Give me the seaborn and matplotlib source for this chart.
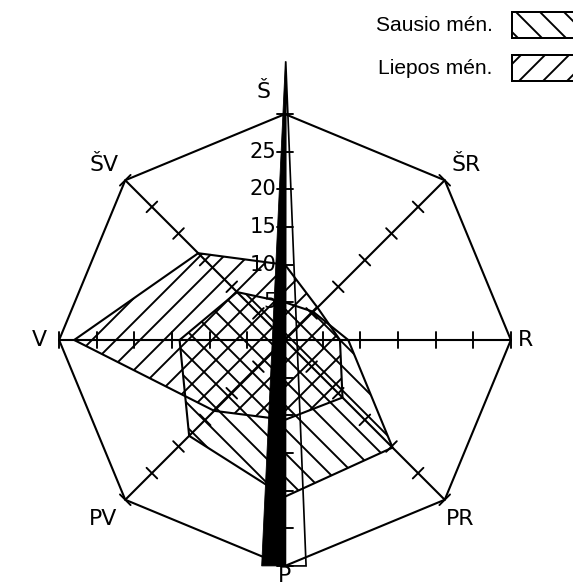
import numpy as np
import pandas as pd
import matplotlib
matplotlib.use("Agg")
import matplotlib.pyplot as plt
import seaborn as sns
from matplotlib.patches import Polygon, Rectangle

# ---------------- data ----------------
directions = ["Š", "ŠR", "R", "PR", "P", "PV", "V", "ŠV"]
angles_deg = [90, 45, 0, -45, -90, -135, 180, 135]
sausio = [5.0, 5.3, 8.4, 20.2, 20.8, 18.0, 14.0, 9.0]     # January
liepos = [10.0, 6.1, 7.3, 10.8, 10.6, 13.3, 28.0, 16.3]   # July
series_names = ["Sausio mén.", "Liepos mén."]
radial_ticks = [5, 10, 15, 20, 25, 30]
radial_tick_labels = ["5", "10", "15", "20", "25"]
frame_radius = 30
needle_top = 37.0
needle_bottom = 30.0
needle_left_width = 3.1
needle_right_width = 2.8

# ---------------- style ----------------
sns.set_theme(style="white")
plt.rcParams['font.family'] = ['DejaVu Sans Condensed', 'Liberation Sans Narrow', 'DejaVu Sans']
plt.rcParams['hatch.linewidth'] = 1.9
plt.rcParams['hatch.color'] = 'black'

DPI = 72
fig = plt.figure(figsize=(573 / DPI, 584 / DPI), dpi=DPI)
fig.patch.set_facecolor('white')
ax = fig.add_axes([0, 0, 1, 1])
ax.set_xlim(-37.85, 38.25)
ax.set_ylim(-32.4, 45.15)
ax.axis('off')

ang = np.deg2rad(np.array(angles_deg, dtype=float))
ux, uy = np.cos(ang), np.sin(ang)


def to_xy(vals):
    v = np.asarray(vals, dtype=float)
    return v * ux, v * uy


# series polygons (hatched, no fill)
hatches = ['\\', '/']
for vals, h, name in zip([sausio, liepos], hatches, series_names):
    x, y = to_xy(vals)
    ax.add_patch(Polygon(np.column_stack([x, y]), closed=True, facecolor='none',
                         edgecolor='black', hatch=h, lw=2.1, zorder=2))

# octagon frame via seaborn
fx, fy = to_xy([frame_radius] * len(directions))
frame_df = pd.DataFrame({"x": np.append(fx, fx[0]), "y": np.append(fy, fy[0]),
                         "i": np.arange(len(fx) + 1)})
sns.lineplot(data=frame_df, x="x", y="y", sort=False, estimator=None,
             color="black", lw=2.1, ax=ax, zorder=3)

# spokes and ticks
for cx, cy in zip(ux, uy):
    ax.plot([0, frame_radius * cx], [0, frame_radius * cy], color='black', lw=2.1, zorder=3)
    px, py = -cy, cx
    for r in radial_ticks:
        ax.plot([r * cx - 1.0 * px, r * cx + 1.0 * px],
                [r * cy - 1.0 * py, r * cy + 1.0 * py], color='black', lw=1.9, zorder=3)

# radial labels along north axis
for r, lab in zip(radial_ticks, radial_tick_labels):
    ax.text(-1.15, r, lab, ha='right', va='center', fontsize=21, color='black', zorder=4)

# direction labels
label_pos = {
    "Š": (-2.8, 32.9), "ŠR": (24.0, 23.3), "R": (32.0, 0.0), "PR": (23.3, -23.8),
    "P": (0.0, -31.4), "PV": (-24.2, -23.8), "V": (-32.6, 0.0), "ŠV": (-24.0, 23.3),
}
for d in directions:
    x, y = label_pos[d]
    ax.text(x, y, d, ha='center', va='center', fontsize=22, color='black', zorder=4)

# needle
ax.add_patch(Polygon([(0.05, needle_top), (-needle_left_width, -needle_bottom), (0.05, -needle_bottom)],
                     closed=True, facecolor='black', edgecolor='black', lw=0.8, zorder=5))
ax.add_patch(Polygon([(0.1, needle_top), (0.05, -needle_bottom), (needle_right_width, -needle_bottom)],
                     closed=True, facecolor='none', edgecolor='black', lw=1.7, zorder=5))

# legend
legend_y = [41.8, 36.1]
for name, h, yc in zip(series_names, hatches, legend_y):
    ax.text(27.6, yc, name, ha='right', va='center', fontsize=21,
            family=['Liberation Sans', 'DejaVu Sans'], color='black')
    ax.add_patch(Rectangle((30.15, yc - 1.75), 9.0, 3.5, facecolor='none', edgecolor='black',
                           hatch=h, lw=2.0, clip_on=False))

fig.savefig("out.png", dpi=DPI, facecolor='white')
